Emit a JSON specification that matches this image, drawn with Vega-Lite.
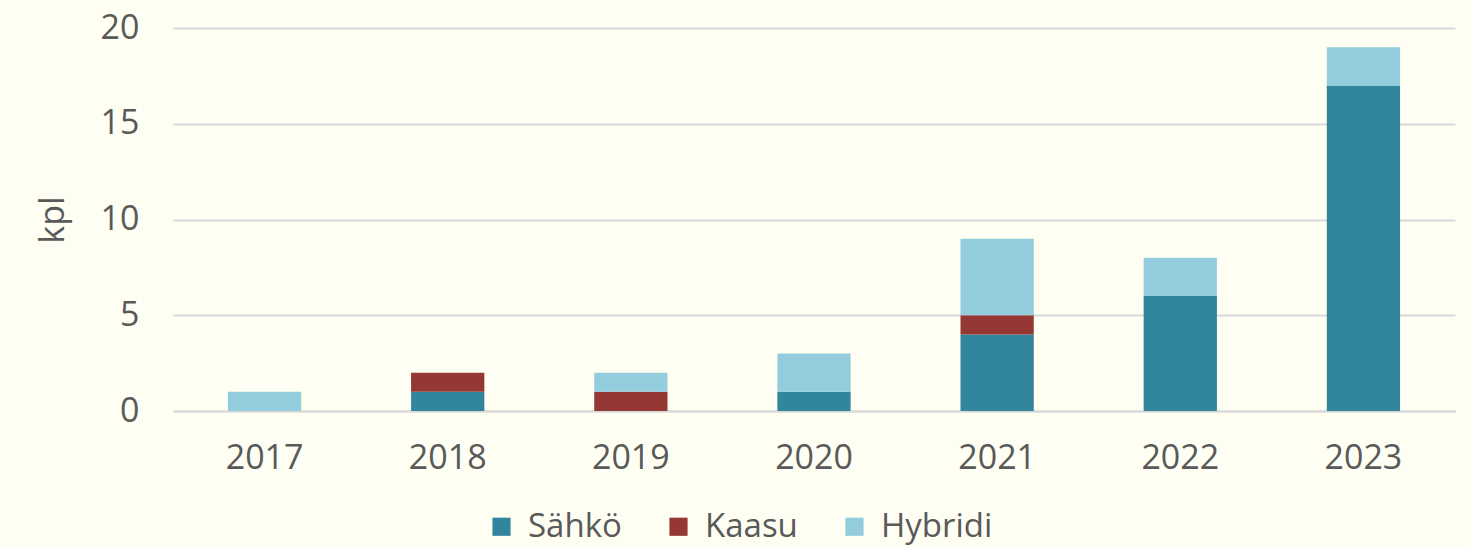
{
  "$schema": "https://vega.github.io/schema/vega-lite/v6.json",
  "width": 1282,
  "height": 383,
  "autosize": {"type": "none"},
  "padding": {"left": 173, "top": 28, "right": 16, "bottom": 136},
  "background": "#FEFEF2",
  "config": {
    "view": {"stroke": null},
    "font": "Open Sans",
    "axis": {"labelFont": "Open Sans", "titleFont": "Open Sans", "labelColor": "#595959", "titleColor": "#595959"},
    "legend": {"labelFont": "Open Sans"}
  },
  "data": {
    "values": [
      {"year": "2017", "type": "Sähkö", "o": 1, "v": 0},
      {"year": "2017", "type": "Kaasu", "o": 2, "v": 0},
      {"year": "2017", "type": "Hybridi", "o": 3, "v": 1},
      {"year": "2018", "type": "Sähkö", "o": 1, "v": 1},
      {"year": "2018", "type": "Kaasu", "o": 2, "v": 1},
      {"year": "2018", "type": "Hybridi", "o": 3, "v": 0},
      {"year": "2019", "type": "Sähkö", "o": 1, "v": 0},
      {"year": "2019", "type": "Kaasu", "o": 2, "v": 1},
      {"year": "2019", "type": "Hybridi", "o": 3, "v": 1},
      {"year": "2020", "type": "Sähkö", "o": 1, "v": 1},
      {"year": "2020", "type": "Kaasu", "o": 2, "v": 0},
      {"year": "2020", "type": "Hybridi", "o": 3, "v": 2},
      {"year": "2021", "type": "Sähkö", "o": 1, "v": 4},
      {"year": "2021", "type": "Kaasu", "o": 2, "v": 1},
      {"year": "2021", "type": "Hybridi", "o": 3, "v": 4},
      {"year": "2022", "type": "Sähkö", "o": 1, "v": 6},
      {"year": "2022", "type": "Kaasu", "o": 2, "v": 0},
      {"year": "2022", "type": "Hybridi", "o": 3, "v": 2},
      {"year": "2023", "type": "Sähkö", "o": 1, "v": 17},
      {"year": "2023", "type": "Kaasu", "o": 2, "v": 0},
      {"year": "2023", "type": "Hybridi", "o": 3, "v": 2}
    ]
  },
  "mark": {"type": "bar"},
  "encoding": {
    "x": {
      "field": "year", "type": "ordinal",
      "scale": {"paddingInner": 0.6, "paddingOuter": 0.3},
      "axis": {"title": null, "labelAngle": 0, "labelFontSize": 34, "labelPadding": 30, "ticks": false, "domain": true, "domainColor": "#D9D9D9", "domainWidth": 2}
    },
    "y": {
      "field": "v", "type": "quantitative", "stack": "zero",
      "scale": {"domain": [0, 20], "nice": false},
      "axis": {"title": "kpl", "titleFontSize": 34, "titleFontWeight": "normal", "titlePadding": 30, "labelFontSize": 34, "labelPadding": 34, "values": [0, 5, 10, 15, 20], "ticks": false, "domain": false, "gridColor": "#D9D9D9", "gridWidth": 2}
    },
    "color": {
      "field": "type", "type": "nominal",
      "scale": {"domain": ["Sähkö", "Kaasu", "Hybridi"], "range": ["#31859C", "#953735", "#93CDDD"]},
      "legend": {"title": null, "orient": "none", "direction": "horizontal", "legendX": 312, "legendY": 482, "symbolType": "square", "symbolSize": 330, "symbolStrokeWidth": 0, "symbolOpacity": 1, "labelFontSize": 33, "labelColor": "#595959", "labelOffset": 10, "columnPadding": 40}
    },
    "order": {"field": "o", "type": "quantitative"}
  }
}
